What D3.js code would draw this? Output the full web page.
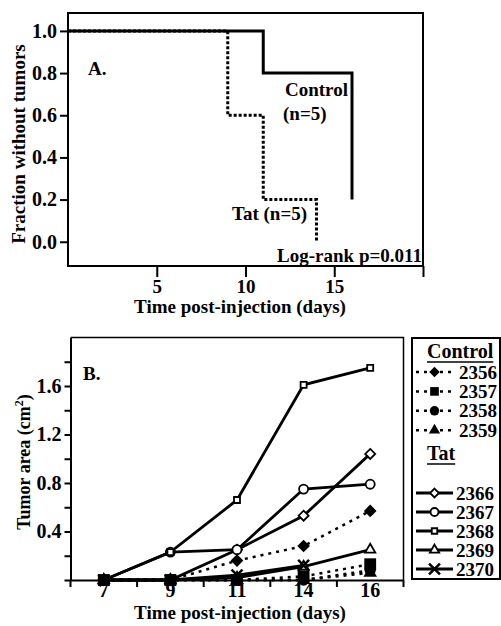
<!DOCTYPE html>
<html>
<head>
<meta charset="utf-8">
<script src="https://cdn.jsdelivr.net/npm/d3@7"></script>
<style>
  body { margin: 0; background: #fff; }
  svg { display: block; font-family: "Liberation Serif", "Times New Roman", serif; font-weight: bold; }
</style>
</head>
<body>
<div id="wrapper"></div>
<script>
// panel A - fraction without tumors (step curves)
const kmControlDays = [0, 11, 16];
const kmControlFrac = [1.0, 0.8, 0.2];
const kmTatDays = [0, 9, 11, 14];
const kmTatFrac = [1.0, 0.6, 0.2, 0.0];
const kmXTicks = [5, 10, 15, 20];
const kmYTicks = [0.0, 0.2, 0.4, 0.6, 0.8, 1.0];

// panel B - tumor area per mouse
const days = ["7", "9", "11", "14", "16"];
const controlIds = ["2356", "2357", "2358", "2359"];
const tatIds = ["2366", "2367", "2368", "2369", "2370"];
const area2356 = [0, 0, 0.16, 0.28, 0.57];
const area2357 = [0, 0, 0, 0.03, 0.13];
const area2358 = [0, 0, 0, 0, 0.08];
const area2359 = [0, 0, 0, 0, 0.06];
const area2366 = [0, 0, 0.25, 0.53, 1.04];
const area2367 = [0, 0.23, 0.25, 0.75, 0.79];
const area2368 = [0, 0.23, 0.66, 1.61, 1.75];
const area2369 = [0, 0, 0.02, 0.11, 0.25];
const area2370 = [0, 0, 0.04, 0.12, null];
const areaYTicks = [0, 0.2, 0.4, 0.6, 0.8, 1.0, 1.2, 1.4, 1.6, 1.8];
const areaYLabels = [0.4, 0.8, 1.2, 1.6];

const W = 501, H = 626;
const svg = d3.select("#wrapper").append("svg").attr("width", W).attr("height", H);

// ---------- panel A ----------
const xA = d3.scaleLinear().domain([0, 20]).range([68, 423]);
const yA = d3.scaleLinear().domain([-0.115, 1.085]).range([266, 13]);
const pa = svg.append("g");

pa.append("rect").attr("x", 68).attr("y", 13).attr("width", 355).attr("height", 253)
  .attr("fill", "none").attr("stroke", "#000").attr("stroke-width", 2);

function styleAxis(g, size) {
  g.attr("font-size", null).attr("font-family", null);
  g.select(".domain").remove();
  g.selectAll(".tick line").attr("stroke-width", 2);
  g.selectAll(".tick text").style("font-size", size + "px").attr("fill", "#000");
}

pa.append("g").attr("transform", "translate(0,266)")
  .call(d3.axisBottom(xA).tickValues(kmXTicks).tickSize(11).tickPadding(3)
    .tickFormat(d => d === 20 ? "" : d))
  .call(g => styleAxis(g, 19));

pa.append("g").attr("transform", "translate(68,0)")
  .call(d3.axisLeft(yA).tickValues(kmYTicks).tickSize(8).tickPadding(3).tickFormat(d3.format(".1f")))
  .call(g => styleAxis(g, 20));

const stepLine = d3.line().x(d => xA(d[0])).y(d => yA(d[1])).curve(d3.curveStepAfter);
pa.append("path").datum(d3.zip(kmTatDays, kmTatFrac)).attr("d", stepLine)
  .attr("fill", "none").attr("stroke", "#000").attr("stroke-width", 3).attr("stroke-dasharray", "3,2");
pa.append("path").datum(d3.zip(kmControlDays, kmControlFrac)).attr("d", stepLine)
  .attr("fill", "none").attr("stroke", "#000").attr("stroke-width", 3);

pa.append("text").attr("x", 88).attr("y", 75).style("font-size", "19px").text("A.");
pa.append("text").attr("x", 285).attr("y", 96).style("font-size", "19px").text("Control");
pa.append("text").attr("x", 283).attr("y", 120).style("font-size", "19px").text("(n=5)");
pa.append("text").attr("x", 232).attr("y", 220).style("font-size", "19px").text("Tat (n=5)");
pa.append("text").attr("x", 422).attr("y", 262).attr("text-anchor", "end").style("font-size", "19px").text("Log-rank p=0.011");
pa.append("text").attr("x", 240).attr("y", 313).attr("text-anchor", "middle").style("font-size", "19px")
  .text("Time post-injection (days)");
pa.append("text").attr("transform", "translate(25,144) rotate(-90)").attr("text-anchor", "middle")
  .style("font-size", "19px").text("Fraction without tumors");

// ---------- panel B ----------
const xB = d3.scaleBand().domain(days).range([70.5, 403.5]);
const cx = d => xB(d) + xB.bandwidth() / 2;
const yB = d3.scaleLinear().domain([0, 2]).range([580, 337.5]);
const pb = svg.append("g");

pb.append("path").attr("d", `M${xB.range()[0]},${yB(2)}H${xB.range()[1]}V${yB(0)}`)
  .attr("fill", "none").attr("stroke", "#000").attr("stroke-width", 1.5);

pb.append("g").attr("transform", `translate(${xB.range()[0]},0)`)
  .call(d3.axisLeft(yB).tickValues(areaYTicks).tickSize(6).tickPadding(3).tickSizeOuter(0)
    .tickFormat(d => areaYLabels.includes(d) ? d.toFixed(1) : ""))
  .call(g => {
    g.attr("font-size", null).attr("font-family", null);
    g.select(".domain").attr("stroke-width", 2);
    g.selectAll(".tick line").attr("stroke-width", 2);
    g.selectAll(".tick text").style("font-size", "20px").attr("fill", "#000");
  });

pb.append("g").attr("transform", `translate(0,${yB(0)})`)
  .call(d3.axisBottom(xB).tickSize(0).tickPadding(3).tickSizeOuter(0))
  .call(g => {
    g.attr("font-size", null).attr("font-family", null);
    g.select(".domain").attr("stroke-width", 2);
    g.selectAll(".tick text").style("font-size", "20px").attr("fill", "#000");
  });

// tick marks between categories
const bounds = days.map(d => xB(d)).concat([xB.range()[1]]);
pb.append("g").selectAll("line").data(bounds).join("line")
  .attr("x1", d => d).attr("x2", d => d).attr("y1", yB(0)).attr("y2", yB(0) + 7)
  .attr("stroke", "#000").attr("stroke-width", 2);

const diamond = {
  draw(ctx, size) {
    const r = Math.sqrt(size / 2);
    ctx.moveTo(0, -r); ctx.lineTo(r, 0); ctx.lineTo(0, r); ctx.lineTo(-r, 0); ctx.closePath();
  }
};
const cross = d3.symbolTimes || d3.symbolX;

// drawing order: Tat first, control on top (filled square last)
const series = [
  { id: "2366", vals: area2366, group: "tat", shape: diamond, size: 50, legSize: 40 },
  { id: "2367", vals: area2367, group: "tat", shape: d3.symbolCircle, size: 64, legSize: 50 },
  { id: "2368", vals: area2368, group: "tat", shape: d3.symbolSquare, size: 36, legSize: 30 },
  { id: "2369", vals: area2369, group: "tat", shape: d3.symbolTriangle, size: 45, legSize: 38 },
  { id: "2370", vals: area2370, group: "tat", shape: cross, size: 80, legSize: 80 },
  { id: "2356", vals: area2356, group: "control", shape: diamond, size: 80, legSize: 55 },
  { id: "2358", vals: area2358, group: "control", shape: d3.symbolCircle, size: 100, legSize: 70 },
  { id: "2359", vals: area2359, group: "control", shape: d3.symbolTriangle, size: 80, legSize: 55 },
  { id: "2357", vals: area2357, group: "control", shape: d3.symbolSquare, size: 140, legSize: 75 }
];

function lineStyle(sel, s) {
  sel.attr("fill", "none").attr("stroke", "#000")
    .attr("stroke-width", s.group === "tat" ? 2.8 : 2.5)
    .attr("stroke-dasharray", s.group === "tat" ? null : "3,5");
}
function markStyle(sel, s) {
  if (s.shape === cross) sel.attr("fill", "none").attr("stroke", "#000").attr("stroke-width", 2.5);
  else if (s.group === "tat") sel.attr("fill", "#fff").attr("stroke", "#000").attr("stroke-width", 1.8);
  else sel.attr("fill", "#000").attr("stroke", "none");
}

const area = d3.line().defined(d => d[1] != null).x(d => cx(d[0])).y(d => yB(d[1]));
series.forEach(s => {
  const pts = d3.zip(days, s.vals);
  pb.append("path").datum(pts).attr("d", area).call(lineStyle, s);
  pb.append("g").selectAll("path").data(pts.filter(p => p[1] != null)).join("path")
    .attr("transform", p => `translate(${cx(p[0])},${yB(p[1])})`)
    .attr("d", d3.symbol(s.shape, s.size)).call(markStyle, s);
});

pb.append("text").attr("x", 83).attr("y", 380).style("font-size", "19px").text("B.");
pb.append("text").attr("x", 240).attr("y", 619).attr("text-anchor", "middle").style("font-size", "19px")
  .text("Time post-injection (days)");
const yTitle = pb.append("text").attr("transform", "translate(30,462) rotate(-90)").attr("text-anchor", "middle")
  .style("font-size", "18px");
yTitle.append("tspan").text("Tumor area (cm");
yTitle.append("tspan").attr("dy", -7).style("font-size", "12px").text("2");
yTitle.append("tspan").attr("dy", 7).text(")");

// ---------- legend ----------
const lg = svg.append("g");
lg.append("rect").attr("x", 412).attr("y", 338).attr("width", 88).attr("height", 241)
  .attr("fill", "none").attr("stroke", "#000").attr("stroke-width", 2);

function header(label, y) {
  const t = lg.append("text").attr("x", 427).attr("y", y).style("font-size", "20px").text(label);
  const w = t.node().getComputedTextLength();
  lg.append("line").attr("x1", 427).attr("x2", 427 + w).attr("y1", y + 4).attr("y2", y + 4)
    .attr("stroke", "#000").attr("stroke-width", 1.5);
}
header("Control", 358);
header("Tat", 460);

function legendRows(ids, y0, step, textX) {
  ids.forEach((id, i) => {
    const s = series.find(d => d.id === id);
    const y = y0 + i * step;
    lg.append("line").attr("x1", 416).attr("x2", 453).attr("y1", y).attr("y2", y).call(lineStyle, s);
    lg.append("path").attr("transform", `translate(434.5,${y})`)
      .attr("d", d3.symbol(s.shape, s.legSize)).call(markStyle, s);
    lg.append("text").attr("x", textX).attr("y", y + 6.5).style("font-size", "19px").text(id);
  });
}
legendRows(controlIds, 372, 19.4, 459);
legendRows(tatIds, 493, 19, 456);
</script>
</body>
</html>
